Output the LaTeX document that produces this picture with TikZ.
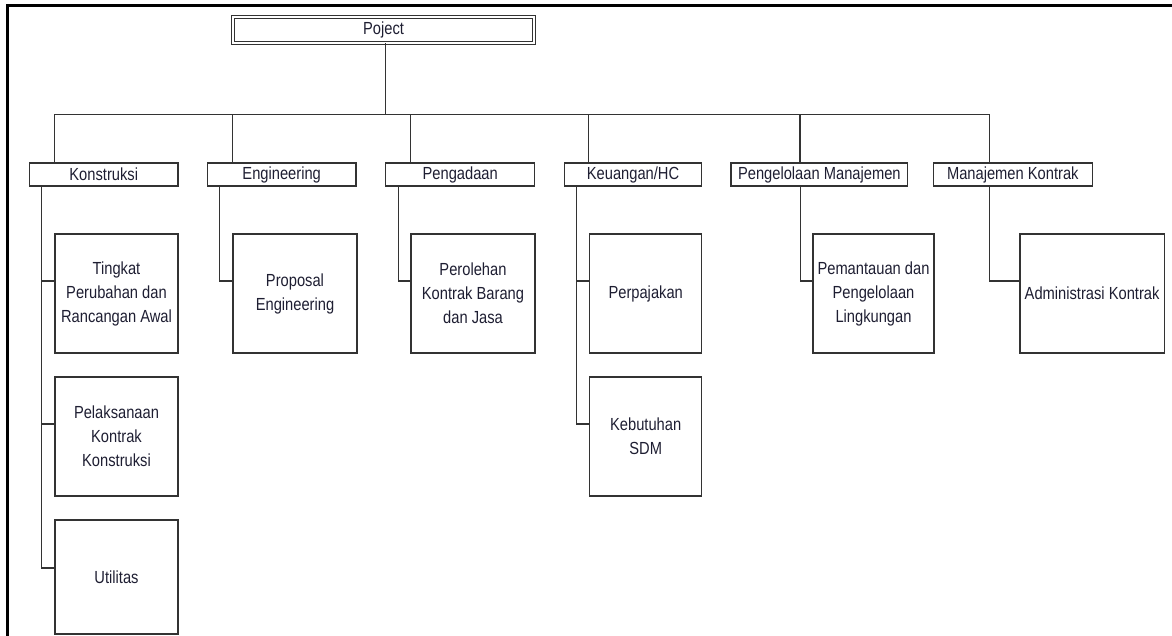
\documentclass[tikz,border=0pt]{standalone}
\usepackage{fontspec}
\newfontfamily\dfont{Liberation Sans}[FakeStretch=0.84]
\definecolor{lineC}{HTML}{333333}
\definecolor{textC}{HTML}{1E1E32}
\begin{document}
\begin{tikzpicture}[x=1pt,y=1pt,
  box/.style={draw=lineC, line width=1.2pt, inner sep=0pt, align=center,
    text=textC, font=\dfont\fontsize{17.5}{24}\selectfont},
  lvl/.style={box, minimum height=23pt},
  leaf/.style={box, minimum height=119pt},
  conn/.style={draw=lineC, line width=1.2pt}]
\useasboundingbox (0,0) rectangle (1172,-636);
% outer frame
\draw[line width=2.6pt, black] (7.5,-640) -- (7.5,-5.7) -- (1175,-5.7);
% root
\node[box, double, double distance=1.8pt, line width=1pt, minimum width=301pt, minimum height=25.5pt] (proj) at (383.6,-30) {Poject};
% level 1
\node[lvl, minimum width=148.5pt] (K)  at (103.75,-174.5) {Konstruksi};
\node[lvl, minimum width=148.6pt] (E)  at (281.7,-174.5) {Engineering};
\node[lvl, minimum width=148.8pt] (P)  at (460.2,-174.5) {Pengadaan};
\node[lvl, minimum width=137.1pt] (Ku) at (633.05,-174.5) {Keuangan/HC};
\node[lvl, minimum width=176.7pt] (PM) at (819.35,-174.5) {Pengelolaan Manajemen};
\node[lvl, minimum width=159pt]   (MK) at (1012.8,-174.5) {Manajemen Kontrak};
% leaves
\node[leaf, minimum width=123pt] (k1) at (116.5,-293.5) {Tingkat\\Perubahan dan\\Rancangan Awal};
\node[leaf, minimum width=123pt] (k2) at (116.5,-436.5) {Pelaksanaan\\Kontrak\\Konstruksi};
\node[leaf, minimum width=123pt, minimum height=114pt] (k3) at (116.5,-577) {Utilitas};
\node[leaf, minimum width=124pt] (e1) at (295,-293.5) {Proposal\\Engineering};
\node[leaf, minimum width=124pt] (p1) at (473,-293.5) {Perolehan\\Kontrak Barang\\dan Jasa};
\node[leaf, minimum width=112pt] (ku1) at (645.7,-293.5) {Perpajakan};
\node[leaf, minimum width=112pt] (ku2) at (645.7,-436.5) {Kebutuhan\\SDM};
\node[leaf, minimum width=121pt] (pm1) at (873.5,-293.5) {Pemantauan dan\\Pengelolaan\\Lingkungan};
\node[leaf, minimum width=144.3pt] (mk1) at (1092.1,-293.5) {Administrasi Kontrak};
% bus
\coordinate (busL) at ([xshift=25.5pt,yshift=48pt]K.north west);
\coordinate (busR) at ([xshift=56.7pt,yshift=48pt]MK.north west);
\draw[conn] ([xshift=2pt]proj.south) -- ([xshift=2pt]proj.south |- busL);
\draw[conn] (busL) -- (busR);
\draw[conn] ([xshift=25.5pt]K.north west) -- ++(0,48);
\draw[conn] ([xshift=25.6pt]E.north west) -- ++(0,48);
\draw[conn] ([xshift=25.2pt]P.north west) -- ++(0,48);
\draw[conn] ([xshift=24.5pt]Ku.north west) -- ++(0,48);
\draw[conn] ([xshift=69.5pt]PM.north west) -- ++(0,48);
\draw[conn] ([xshift=56.7pt]MK.north west) -- ++(0,48);
% spines
\draw[conn] ([xshift=12.5pt]K.south west) |- ([yshift=12.5pt]k1.west);
\draw[conn] ([xshift=12.5pt]K.south west) |- ([yshift=12.5pt]k2.west);
\draw[conn] ([xshift=12.5pt]K.south west) |- ([yshift=9pt]k3.west);
\draw[conn] ([xshift=12.6pt]E.south west) |- ([yshift=12.5pt]e1.west);
\draw[conn] ([xshift=13.2pt]P.south west) |- ([yshift=12.5pt]p1.west);
\draw[conn] ([xshift=12.5pt]Ku.south west) |- ([yshift=12.5pt]ku1.west);
\draw[conn] ([xshift=12.5pt]Ku.south west) |- ([yshift=12.5pt]ku2.west);
\draw[conn] ([xshift=69.7pt]PM.south west) |- ([yshift=12.5pt]pm1.west);
\draw[conn] ([xshift=56.7pt]MK.south west) |- ([yshift=12.5pt]mk1.west);
\end{tikzpicture}
\end{document}
